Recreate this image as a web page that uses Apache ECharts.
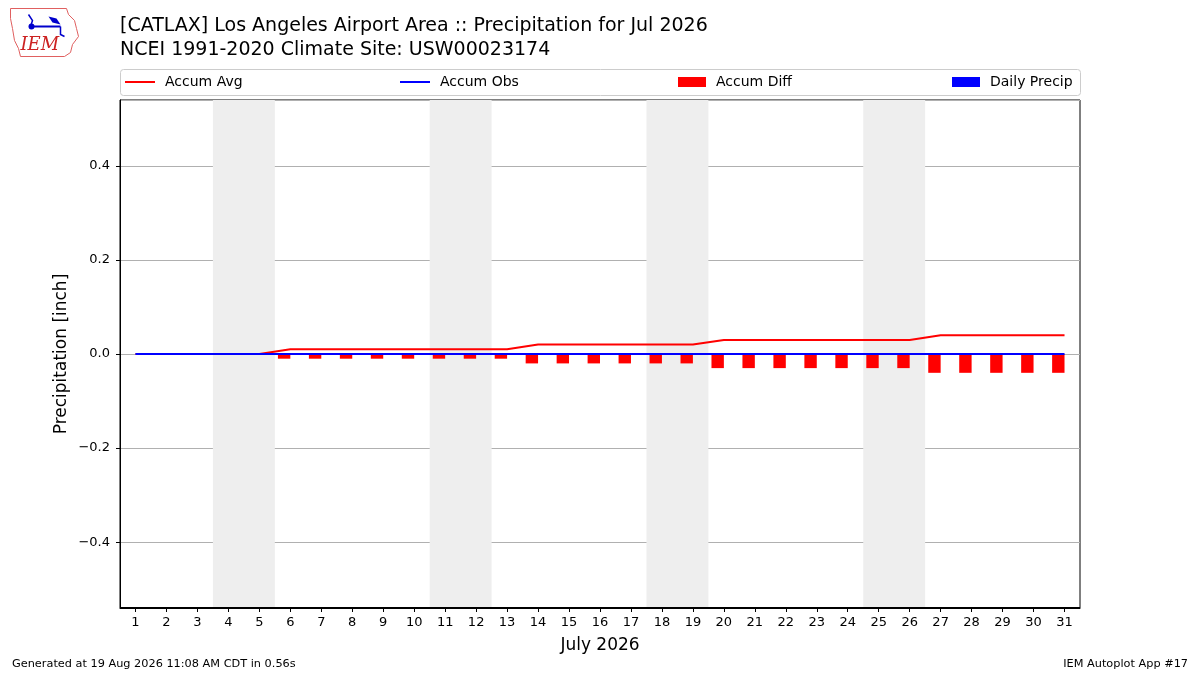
<!DOCTYPE html>
<html>
<head>
<meta charset="utf-8">
<script src="https://cdn.jsdelivr.net/npm/echarts@6/dist/echarts.min.js"></script>
<style>
  html, body { margin: 0; padding: 0; background: #fff; }
  #chart { width: 1200px; height: 675px; }
</style>
</head>
<body>
<div id="chart"></div>
<script>
// data
const days = []
for (let d = 1; d <= 31; d++) days.push(String(d))
const accumAvg = [0, 0, 0, 0, 0,
  0.01, 0.01, 0.01, 0.01, 0.01, 0.01, 0.01, 0.01,
  0.02, 0.02, 0.02, 0.02, 0.02, 0.02,
  0.03, 0.03, 0.03, 0.03, 0.03, 0.03, 0.03,
  0.04, 0.04, 0.04, 0.04, 0.04]
const accumObs = [0, 0, 0, 0, 0, 0, 0, 0, 0, 0, 0, 0, 0, 0, 0, 0,
  0, 0, 0, 0, 0, 0, 0, 0, 0, 0, 0, 0, 0, 0, 0]
const accumDiff = [0, 0, 0, 0, 0,
  -0.01, -0.01, -0.01, -0.01, -0.01, -0.01, -0.01, -0.01,
  -0.02, -0.02, -0.02, -0.02, -0.02, -0.02,
  -0.03, -0.03, -0.03, -0.03, -0.03, -0.03, -0.03,
  -0.04, -0.04, -0.04, -0.04, -0.04]
const dailyPrecip = [0, 0, 0, 0, 0, 0, 0, 0, 0, 0, 0, 0, 0, 0, 0, 0,
  0, 0, 0, 0, 0, 0, 0, 0, 0, 0, 0, 0, 0, 0, 0]
// weekend day pairs (Sat, Sun)
const weekends = [[4, 5], [11, 12], [18, 19], [25, 26]]

const FONT = 'DejaVu Sans'
const chart = echarts.init(document.getElementById('chart'))

const fmt = v => {
  if (Math.abs(v) < 1e-9) return '0.0'
  return (v < 0 ? '\u2212' : '') + Math.abs(v).toFixed(1)
}

const legendBase = (name, left, lineIcon) => ({
  data: [name],
  left: left,
  top: 75,
  padding: 0,
  icon: 'rect',
  itemWidth: lineIcon ? 30 : 28,
  itemHeight: lineIcon ? 2 : 10,
  selectedMode: false,
  textStyle: { fontFamily: FONT, fontSize: 14, color: '#000', padding: [0, 0, 0, 5] }
})

const option = {
  animation: false,
  backgroundColor: '#fff',
  title: {
    text: '[CATLAX] Los Angeles Airport Area :: Precipitation for Jul 2026\nNCEI 1991-2020 Climate Site: USW00023174',
    left: 120,
    top: 14,
    padding: 0,
    textStyle: { fontFamily: FONT, fontSize: 19, fontWeight: 'normal', color: '#000', lineHeight: 24 }
  },
  legend: [
    legendBase('Accum Avg', 125, true),
    legendBase('Accum Obs', 400, true),
    legendBase('Accum Diff', 678, false),
    legendBase('Daily Precip', 952, false)
  ],
  grid: {
    left: 120, right: 120, top: 100, bottom: 67,
    show: true, borderColor: '#000', borderWidth: 1, backgroundColor: 'transparent'
  },
  xAxis: [{
    type: 'category',
    data: days,
    boundaryGap: true,
    name: 'July 2026',
    nameLocation: 'middle',
    nameGap: 29,
    nameTextStyle: { fontFamily: FONT, fontSize: 17, color: '#000' },
    axisLine: { show: true, onZero: false, lineStyle: { color: '#000' } },
    axisTick: { show: true, alignWithLabel: true, length: 4, lineStyle: { color: '#000' } },
    axisLabel: { fontFamily: FONT, fontSize: 13, color: '#000', margin: 8, interval: 0 },
    splitLine: { show: false }
  }, {
    type: 'value',
    min: 0.5,
    max: 31.5,
    show: false
  }],
  yAxis: {
    type: 'value',
    min: -0.54,
    max: 0.54,
    splitNumber: 5,
    name: 'Precipitation [inch]',
    nameLocation: 'middle',
    nameGap: 50,
    nameMoveOverlap: false,
    nameTextStyle: { fontFamily: FONT, fontSize: 17, color: '#000' },
    axisLine: { show: true, lineStyle: { color: '#000' } },
    axisTick: { show: true, length: 4, lineStyle: { color: '#000' } },
    axisLabel: {
      fontFamily: FONT, fontSize: 13, color: '#000', margin: 10,
      showMinLabel: false, showMaxLabel: false, formatter: fmt
    },
    splitLine: { show: true, lineStyle: { color: '#b0b0b0', width: 1 } }
  },
  series: [
    {
      name: 'weekend',
      type: 'line',
      xAxisIndex: 1,
      data: [],
      silent: true,
      z: -1,
      markArea: {
        silent: true,
        itemStyle: { color: '#eeeeee' },
        data: weekends.map(w => [{ xAxis: w[0] - 0.5 }, { xAxis: w[1] + 0.5 }])
      }
    },
    {
      name: 'Accum Diff',
      type: 'bar',
      data: accumDiff,
      barWidth: 12.4,
      barGap: '0%',
      itemStyle: { color: '#ff0000' },
      z: 2
    },
    {
      name: 'Daily Precip',
      type: 'bar',
      data: dailyPrecip,
      barWidth: 12.4,
      barGap: '0%',
      itemStyle: { color: '#0000ff' },
      z: 2
    },
    {
      name: 'Accum Avg',
      type: 'line',
      data: accumAvg,
      symbol: 'none',
      lineStyle: { color: '#ff0000', width: 2 },
      itemStyle: { color: '#ff0000' },
      z: 3
    },
    {
      name: 'Accum Obs',
      type: 'line',
      data: accumObs,
      symbol: 'none',
      lineStyle: { color: '#0000ff', width: 2 },
      itemStyle: { color: '#0000ff' },
      z: 4
    }
  ],
  graphic: [
    // legend frame
    {
      type: 'rect', left: 120, top: 69, z: -1,
      shape: { width: 960, height: 26, r: 3 },
      style: { fill: '#fff', stroke: '#cccccc', lineWidth: 1 }
    },
    // plot frame bottom edge, kept above the weekend shading
    {
      type: 'line', z: 100,
      shape: { x1: 120, y1: 607.5, x2: 1080, y2: 607.5 },
      style: { stroke: '#000', lineWidth: 1 }
    },
    // logo
    {
      type: 'group', left: 8, top: 6,
      children: [
        {
          type: 'polyline',
          shape: { points: [[2, 2], [58, 2], [60, 8], [66, 14], [68, 22], [70, 30], [64, 38], [62, 46], [56, 50], [12, 50], [10, 42], [6, 34], [4, 22], [2, 12], [2, 2]] },
          style: { stroke: '#e06060', fill: 'none', lineWidth: 1 }
        },
        {
          type: 'polyline',
          shape: { points: [[22, 20], [52, 20]] },
          style: { stroke: '#0000cc', lineWidth: 2 }
        },
        {
          type: 'polyline',
          shape: { points: [[20, 8], [24, 14], [22, 20]] },
          style: { stroke: '#0000cc', lineWidth: 1.5, fill: 'none' }
        },
        {
          type: 'circle',
          shape: { cx: 23, cy: 20, r: 3 },
          style: { fill: '#0000cc' }
        },
        {
          type: 'polygon',
          shape: { points: [[40, 10], [48, 12], [52, 18], [44, 16]] },
          style: { fill: '#0000cc' }
        },
        {
          type: 'polyline',
          shape: { points: [[52, 20], [52, 28], [56, 30]] },
          style: { stroke: '#0000cc', lineWidth: 1.5, fill: 'none' }
        },
        {
          type: 'text', left: 12, top: 30,
          style: { text: 'IEM', fill: '#cc2222', font: 'italic 18px "DejaVu Serif", serif' }
        }
      ]
    },
    // footer
    {
      type: 'text', left: 12, top: 659,
      style: { text: 'Generated at 19 Aug 2026 11:08 AM CDT in 0.56s', fill: '#000', font: '11.3px "DejaVu Sans"' }
    },
    {
      type: 'text', right: 12, top: 659,
      style: { text: 'IEM Autoplot App #17', fill: '#000', font: '11.3px "DejaVu Sans"' }
    }
  ]
}

chart.setOption(option)
window.onresize = chart.resize
</script>
</body>
</html>
